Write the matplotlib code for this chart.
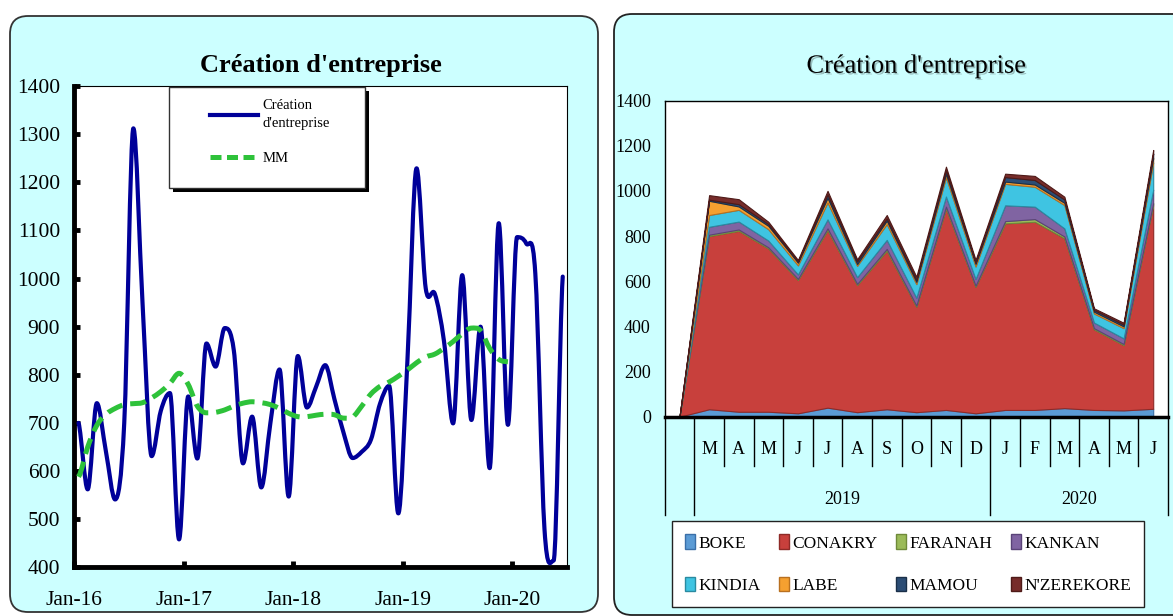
import numpy as np
import matplotlib
matplotlib.use("Agg")
import matplotlib.pyplot as plt
import matplotlib.patheffects as pe
from matplotlib.path import Path
from matplotlib.patches import PathPatch, FancyBboxPatch, Patch, Rectangle
from matplotlib.lines import Line2D
from matplotlib import font_manager

# ---- left chart: monthly company creations Jan-16 .. Jun-20 and moving average
creation = [700, 562, 741, 640, 541, 700, 1312, 950, 631, 725, 762, 458,
            755, 626, 865, 817, 897, 850, 616, 713, 566, 700, 811, 547,
            839, 732, 775, 820, 750, 680, 627, 640, 665, 740, 777, 512,
            830, 1229, 980, 968, 870, 699, 1007, 706, 900, 606, 1115, 696,
            1086, 1073, 1010, 480, 414, 1004]
mm = [588, 650, 695, 718, 730, 738, 740, 742, 752, 765, 782, 803,
      780, 735, 721, 722, 727, 735, 741, 744, 742, 738, 730, 720,
      713, 713, 716, 718, 717, 710, 712, 735, 760, 776, 785, 797,
      810, 825, 837, 843, 855, 869, 885, 897, 892, 855, 832, 827]
year_ticks = ["Jan-16", "Jan-17", "Jan-18", "Jan-19", "Jan-20"]

# ---- right chart: creations by region, (blank), Mar 2019 .. Jun 2020
month_labels = ["", "M", "A", "M", "J", "J", "A", "S", "O", "N", "D",
                "J", "F", "M", "A", "M", "J"]
years = ["2019", "2020"]
year_spans = [(1, 11), (11, 17)]
regions = ["BOKE", "CONAKRY", "FARANAH", "KANKAN", "KINDIA", "LABE",
           "MAMOU", "N'ZEREKORE"]
boke = [0, 33, 22, 22, 15, 40, 20, 33, 20, 30, 15, 30, 30, 38, 30, 28, 35]
conakry = [0, 767, 801, 723, 590, 786, 563, 702, 467, 892, 560, 826, 833, 752, 357, 289, 902]
faranah = [0, 6, 6, 5, 5, 8, 5, 8, 5, 8, 5, 10, 12, 8, 5, 5, 8]
kankan = [0, 35, 35, 30, 20, 40, 30, 40, 35, 45, 30, 70, 55, 36, 25, 25, 60]
kindia = [0, 52, 52, 50, 40, 75, 50, 70, 60, 85, 55, 95, 88, 103, 40, 45, 120]
labe = [0, 63, 15, 15, 12, 20, 8, 15, 10, 15, 12, 10, 10, 10, 8, 8, 20]
mamou = [0, 5, 10, 8, 5, 15, 12, 10, 10, 15, 7, 20, 20, 15, 8, 8, 20]
nzerekore = [0, 20, 22, 10, 7, 16, 9, 15, 13, 17, 10, 15, 18, 12, 7, 8, 16]

colors = ["#5B9BD5", "#C8403C", "#9BBB59", "#8064A2", "#3FC4E2", "#F5A030",
          "#2C4D75", "#772C2A"]
edges = ["#3A6FA8", "#8E2A27", "#6F8A3A", "#5A4378", "#2A8AA0", "#B87020",
         "#1A2F48", "#4E1A18"]

BG = "#CCFFFF"
W, H = 1173, 616


def smooth_path(x, y):
    # cubic bezier through the points (smoothed line); flat tangent at turning points
    n = len(x)
    slope = []
    for i in range(n):
        a = y[i - 1] if i > 0 else y[i]
        b = y[i + 1] if i < n - 1 else y[i]
        if (y[i] - a) * (b - y[i]) < 0:
            slope.append(0.0)
        else:
            slope.append((b - a) / 2)
    verts = [(x[0], y[0])]
    codes = [Path.MOVETO]
    for i in range(n - 1):
        dx = x[i + 1] - x[i]
        verts += [(x[i] + dx / 3, y[i] + slope[i] / 3),
                  (x[i + 1] - dx / 3, y[i + 1] - slope[i + 1] / 3),
                  (x[i + 1], y[i + 1])]
        codes += [Path.CURVE4] * 3
    return Path(verts, codes)


names = {f.name for f in font_manager.fontManager.ttflist}
narrow = "Liberation Sans Narrow" if "Liberation Sans Narrow" in names else "Liberation Serif"
serif = "Liberation Serif"

fig = plt.figure(figsize=(W / 100, H / 100), dpi=100)

# panels drawn in pixel units so the corners stay round
bg = fig.add_axes([0, 0, 1, 1])
bg.set_xlim(0, W)
bg.set_ylim(H, 0)
bg.axis("off")
bg.add_patch(FancyBboxPatch((10, 16), 588, 596, boxstyle="round,pad=0,rounding_size=18",
                            fc=BG, ec="#333333", lw=1.3))
bg.add_patch(FancyBboxPatch((614, 14), 620, 601, boxstyle="round,pad=0,rounding_size=18",
                            fc=BG, ec="#222222", lw=1.3))

# ---------------- left chart
ax1 = fig.add_axes([74 / W, 1 - 567.3 / H, (567.3 - 74) / W, (567.3 - 86) / H])
x = np.arange(len(creation)) + 0.5
ax1.add_patch(PathPatch(smooth_path(x, creation), fill=False, ec="#000099", lw=3,
                        capstyle="round", joinstyle="round", zorder=3))
ax1.add_patch(PathPatch(smooth_path(x[:len(mm)], mm), fill=False, ec="#2EC23A", lw=3.6,
                        ls=(0, (3.2, 1.6)), zorder=4))
ax1.set_xlim(0, len(creation))
ax1.set_ylim(400, 1400)
ax1.set_xticks([12 * i for i in range(len(year_ticks))], year_ticks)
ax1.set_yticks(range(400, 1401, 100))
for s in ["left", "bottom"]:
    ax1.spines[s].set_linewidth(3.5)
for s in ["top", "right"]:
    ax1.spines[s].set_linewidth(0.8)
ax1.tick_params(direction="in", length=4, width=3.5, labelsize=15.5)
ax1.tick_params(axis="x", pad=17)
ax1.tick_params(axis="y", pad=10)
for lab in ax1.get_xticklabels() + ax1.get_yticklabels():
    lab.set_fontfamily(serif)
ax1.set_title("Création d'entreprise", fontfamily=serif, fontweight="bold",
              fontsize=19, pad=10)

# legend box with a hard shadow
ax1.add_patch(Rectangle((0.2007, 0.780), 0.3975, 0.21, transform=ax1.transAxes,
                        fc="black", ec="none", zorder=5))
ax1.add_patch(Rectangle((0.1926, 0.788), 0.3975, 0.21, transform=ax1.transAxes,
                        fc="white", ec="#333333", lw=1, zorder=6))
handles = [Line2D([], [], color="#000099", lw=3),
           Line2D([], [], color="#2EC23A", lw=3.6, ls=(0, (2.2, 1.1)))]
leg = ax1.legend(handles, ["Création\nd'entreprise", "MM"], loc="upper left",
                 bbox_to_anchor=(0.2757, 0.972), frameon=False, borderpad=0,
                 borderaxespad=0, handlelength=3.3, handletextpad=0.3,
                 labelspacing=1.5, prop={"family": serif, "size": 10.5})
leg.get_texts()[0].set_linespacing(1.45)
leg.set_zorder(7)

# ---------------- right chart
ax2 = fig.add_axes([664.7 / W, 1 - 416.7 / H, (1168 - 664.7) / W, (416.7 - 100.5) / H])
xr = np.arange(len(month_labels)) + 0.5
stacks = ax2.stackplot(xr, boke, conakry, faranah, kankan, kindia, labe, mamou,
                       nzerekore, colors=colors, lw=0.8)
for poly, ec in zip(stacks, edges):
    poly.set_edgecolor(ec)
ax2.set_xlim(0, len(month_labels))
ax2.set_ylim(0, 1400)
ax2.set_yticks(range(0, 1401, 200))
ax2.set_xticks([])
ax2.tick_params(axis="y", length=0, pad=10, labelsize=13)
for lab in ax2.get_yticklabels():
    lab.set_fontfamily(narrow)
for s in ["left", "top", "right"]:
    ax2.spines[s].set_linewidth(1)
ax2.spines["bottom"].set_linewidth(2.5)
ax2.set_title("Création d'entreprise", fontfamily=narrow, fontsize=19, pad=20,
              path_effects=[pe.withSimplePatchShadow(offset=(1.2, -1.2), alpha=0.25)])

# multi-level category axis
tr = ax2.get_xaxis_transform()
for i, lab in enumerate(month_labels):
    ax2.text(i + 0.5, -0.105, lab, transform=tr, ha="center", va="center",
             fontfamily=narrow, fontsize=13)
big = {0, len(month_labels)} | {a for a, b in year_spans}
for b in range(len(month_labels) + 1):
    low = -0.311 if b in big else -0.156
    ax2.plot([b, b], [0, low], transform=tr, color="black", lw=1, clip_on=False)
for yr, (a, b) in zip(years, year_spans):
    ax2.text((a + b) / 2, -0.261, yr, transform=tr, ha="center", va="center",
             fontfamily=narrow, fontsize=13)

# legend filled row by row
order = [0, 4, 1, 5, 2, 6, 3, 7]
lh = [Patch(fc=colors[k], ec=edges[k]) for k in order]
ll = [regions[k] for k in order]
fig.legend(lh, ll, ncol=4, loc="lower left", mode="expand",
           bbox_to_anchor=(672 / W, 1 - 607 / H, (1144 - 672) / W, (607 - 522) / H),
           borderaxespad=0, fancybox=False, edgecolor="#222222", framealpha=1,
           borderpad=0.75, labelspacing=1.45, handlelength=0.55, handleheight=0.9,
           handletextpad=0.2, prop={"family": narrow, "size": 12.5})

fig.savefig("out.png", dpi=100, facecolor="white")
